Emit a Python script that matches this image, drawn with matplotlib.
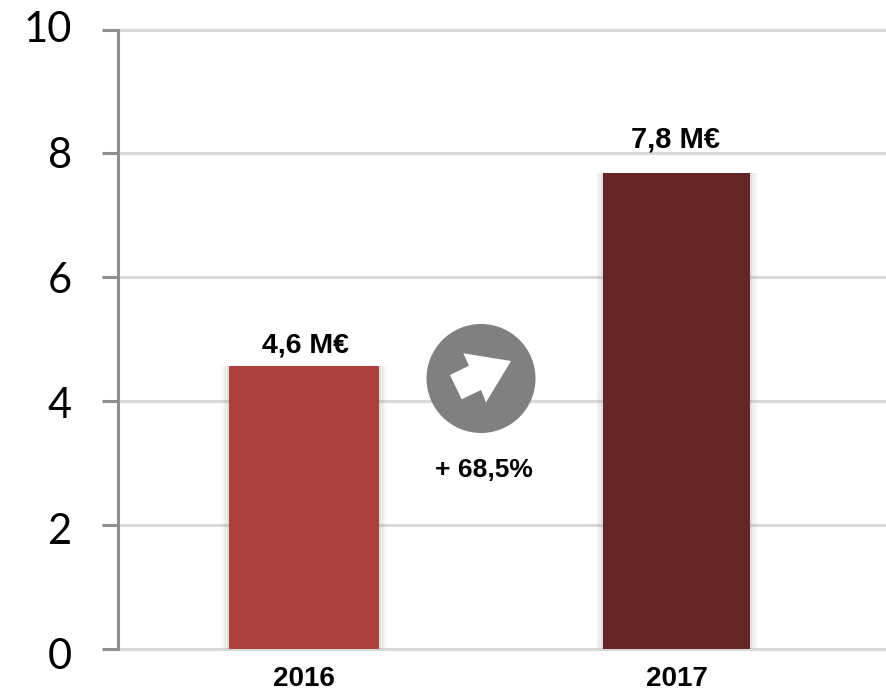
#!/usr/bin/env python3
"""Revenue per year, bar chart with a growth badge between the bars."""

import matplotlib

matplotlib.use("Agg")
import matplotlib.pyplot as plt
from matplotlib.patches import Circle, Polygon
from matplotlib.transforms import ScaledTranslation

years = ["2016", "2017"]
values = [4.57, 7.68]
value_labels = ["4,6 M€", "7,8 M€"]
y_ticks = [0, 2, 4, 6, 8, 10]
growth_label = "+ 68,5%"

BAR_COLORS = ["#AB403D", "#652524"]
BAR_WIDTHS = [0.404, 0.395]
LABEL_OFFSETS = [(1, 15), (-1, 24)]
LABEL_SIZES = [20.5, 21]
LABEL_FONT = "Liberation Sans"
W, H = 887, 690

fig = plt.figure(figsize=(W / 100, H / 100), dpi=100)
ax = fig.add_axes([118.5 / W, 1 - 649 / H, (W - 118.5) / W, (649 - 29.5) / H])

# soft shadow either side of the bars
for i, val in enumerate(values):
    for extra, alpha in [(0.04, 0.05), (0.026, 0.08), (0.012, 0.12)]:
        ax.bar(i, val, width=BAR_WIDTHS[i] + extra, color="#7f7f7f", alpha=alpha, zorder=2, linewidth=0)

ax.bar(range(len(years)), values, width=BAR_WIDTHS, color=BAR_COLORS, zorder=3, linewidth=0)

ax.set_xlim(-0.498, 1.565)
ax.set_ylim(0, 10)
ax.set_yticks(y_ticks)
ax.set_xticks(range(len(years)))
ax.set_xticklabels(years, fontfamily=LABEL_FONT, fontweight="bold", fontsize=20)
ax.tick_params(axis="x", length=0, pad=12)
ax.tick_params(axis="y", length=11.5, width=2.2, color="#8f8f8f", labelsize=30, pad=22)
for label in ax.get_yticklabels():
    label.set_fontfamily("Lato")
    # the labels sit on a slightly wider scale than the ticks
    shift = -4.5 + 0.7 * label.get_position()[1]
    label.set_transform(label.get_transform() + ScaledTranslation(0, shift / 100, fig.dpi_scale_trans))

ax.grid(axis="y", color="#d9d9d9", linewidth=2.2, zorder=1)
for line in ax.get_ygridlines():
    line.set_clip_on(False)
ax.set_axisbelow(True)
for side in ["top", "right", "bottom"]:
    ax.spines[side].set_visible(False)
ax.spines["left"].set_color("#8f8f8f")
ax.spines["left"].set_linewidth(2.2)

for i, (val, text) in enumerate(zip(values, value_labels)):
    ax.annotate(text, (i, val), xytext=LABEL_OFFSETS[i], textcoords="offset points", ha="center", va="center",
                fontfamily=LABEL_FONT, fontweight="bold", fontsize=LABEL_SIZES[i], color="black")

# growth badge, overlay in pixel coordinates
overlay = fig.add_axes([0, 0, 1, 1], facecolor="none")
overlay.set_xlim(0, W)
overlay.set_ylim(H, 0)
overlay.axis("off")
overlay.add_patch(Circle((481, 378.5), 54.5, color="#808080", linewidth=0))
overlay.add_patch(Polygon(
    [(463.3, 353.3), (511, 361), (486, 402.3), (481, 390), (461.7, 399.3), (450, 375), (469, 365.7)],
    closed=True, color="white", linewidth=0,
))
overlay.text(484, 470, growth_label, ha="center", va="center", fontfamily=LABEL_FONT,
             fontweight="bold", fontsize=19, color="black")

fig.savefig("out.png", dpi=100)
